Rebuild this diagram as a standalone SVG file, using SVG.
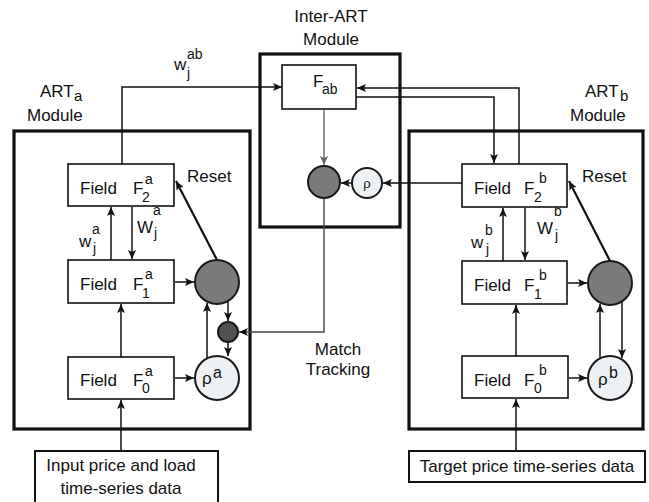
<svg xmlns="http://www.w3.org/2000/svg" width="649" height="502" viewBox="0 0 649 502">
<defs>
<style>
text{font-family:"Liberation Sans",Arial,sans-serif;fill:#111}
.t{font-size:17px}
.s{font-size:14px}
.mod{fill:none;stroke:#111;stroke-width:3.2}
.box{fill:#fff;stroke:#111;stroke-width:1.6}
.io{fill:#fff;stroke:#111;stroke-width:2}
.big{fill:#7a7a7a;stroke:#1a1a1a;stroke-width:2}
.dark{fill:#505050;stroke:#1a1a1a;stroke-width:2}
.rho{fill:#eef1f3;stroke:#1a1a1a;stroke-width:2}
.c{fill:none;stroke:#111;stroke-width:1.5;marker-end:url(#ah)}
.r{fill:none;stroke:#111;stroke-width:2.2;marker-end:url(#ah)}
.g{fill:none;stroke:#777;stroke-width:1.6;marker-end:url(#ahg)}
.m{fill:none;stroke:#444;stroke-width:1.4;marker-end:url(#ah)}
</style>
<marker id="ah" markerUnits="userSpaceOnUse" markerWidth="9" markerHeight="8" refX="9" refY="4" orient="auto"><path d="M0,0 L9,4 L0,8 L2,4 z" fill="#111"/></marker>
<marker id="ahg" markerUnits="userSpaceOnUse" markerWidth="9" markerHeight="8" refX="9" refY="4" orient="auto"><path d="M0,0 L9,4 L0,8 L2,4 z" fill="#666"/></marker>
</defs>
<rect width="649" height="502" fill="#fff"/>

<g id="module-labels">
<text class="t" x="331" y="22" text-anchor="middle">Inter-ART</text>
<text class="t" x="331" y="45" text-anchor="middle">Module</text>
<text class="t" x="40" y="97">ART</text><text x="74" y="101" style="font-size:15px">a</text>
<text class="t" x="27" y="121">Module</text>
<text class="t" x="585" y="97">ART</text><text x="620" y="101" style="font-size:15px">b</text>
<text class="t" x="570" y="121">Module</text>
</g>

<g id="art-a-module"><rect class="mod" x="14" y="131" width="236" height="298"/></g>
<g id="inter-art-module"><rect class="mod" x="260" y="54" width="140" height="173"/></g>
<g id="art-b-module"><rect class="mod" x="409" y="131" width="234" height="298"/></g>

<g id="connectors">
<path class="c" d="M122,164 V87 H282"/>
<path class="c" d="M111,260 V207"/>
<path class="c" d="M132,207 V259"/>
<path class="c" d="M175,282 H194"/>
<path class="r" d="M217,260 L176,181"/>
<path class="c" d="M228,301 V321"/>
<path class="c" d="M228,342 V356"/>
<path class="c" d="M207,358 V303"/>
<path class="c" d="M175,378 H194"/>
<path class="c" d="M121,451 V400"/>
<path class="c" d="M121,357 V304"/>
<path class="g" d="M324,110 V165"/>
<path class="c" d="M352,183 H341"/>
<path class="c" d="M462,183 H383"/>
<path class="m" d="M324,198 V332 H239"/>
<path class="c" d="M519,164 V88 H357"/>
<path class="c" d="M356,97 H494 V163"/>
<path class="c" d="M503,261 V208"/>
<path class="c" d="M525,208 V260"/>
<path class="c" d="M568,283 H587"/>
<path class="r" d="M610,261 L569,181"/>
<path class="c" d="M600,358 V304"/>
<path class="c" d="M622,302 V358"/>
<path class="c" d="M569,378 H587"/>
<path class="c" d="M516,451 V399"/>
<path class="c" d="M516,356 V305"/>
</g>

<g id="connector-labels">
<text class="t" x="174" y="70">w</text><text class="s" x="187" y="59">ab</text><text class="s" x="187" y="78">j</text>
<text class="t" x="79" y="247">w</text><text class="s" x="92" y="234">a</text><text class="s" x="93" y="253">j</text>
<text class="t" x="137" y="233">W</text><text class="s" x="153" y="215">a</text><text class="s" x="154" y="238">j</text>
<text class="t" x="471" y="248">w</text><text class="s" x="485" y="235">b</text><text class="s" x="486" y="254">j</text>
<text class="t" x="537" y="234">W</text><text class="s" x="554" y="216">b</text><text class="s" x="555" y="240">j</text>
<text class="t" x="187" y="182">Reset</text>
<text class="t" x="582" y="182">Reset</text>
<text class="t" x="338" y="355" text-anchor="middle">Match</text>
<text class="t" x="338" y="375" text-anchor="middle">Tracking</text>
</g>

<g id="F2a"><rect class="box" x="68" y="164" width="106" height="42"/>
<text class="t" x="80" y="194">Field</text><text class="t" x="133" y="194">F</text><text class="s" x="145" y="184">a</text><text class="s" x="142" y="202">2</text></g>
<g id="F1a"><rect class="box" x="68" y="260" width="106" height="43"/>
<text class="t" x="80" y="290">Field</text><text class="t" x="133" y="290">F</text><text class="s" x="145" y="279">a</text><text class="s" x="142" y="298">1</text></g>
<g id="F0a"><rect class="box" x="68" y="357" width="106" height="42"/>
<text class="t" x="80" y="386">Field</text><text class="t" x="133" y="386">F</text><text class="s" x="145" y="376">a</text><text class="s" x="142" y="393">0</text></g>
<g id="orient-a"><circle class="big" cx="217" cy="282" r="22"/></g>
<g id="match-a"><circle class="dark" cx="228" cy="332" r="10"/></g>
<g id="rho-a"><circle class="rho" cx="217" cy="378" r="22"/>
<text class="t" x="202" y="384">ρ</text><text x="213" y="378" style="font-size:16px">a</text></g>
<g id="input-a"><rect class="io" x="35" y="451" width="183" height="60"/>
<text class="t" x="121" y="471" text-anchor="middle">Input price and load</text>
<text class="t" x="121" y="494" text-anchor="middle">time-series data</text></g>

<g id="Fab"><rect class="box" x="282" y="65" width="74" height="44"/>
<text class="t" x="313" y="87">F</text><text class="s" x="322" y="94">ab</text></g>
<g id="map-field"><circle class="big" cx="324" cy="182" r="16"/></g>
<g id="rho-ab"><circle class="rho" cx="367" cy="183" r="15"/>
<text x="367" y="188" text-anchor="middle" style="font-size:13px">ρ</text></g>

<g id="F2b"><rect class="box" x="462" y="164" width="105" height="43"/>
<text class="t" x="474" y="194">Field</text><text class="t" x="524" y="194">F</text><text class="s" x="539" y="183">b</text><text class="s" x="534" y="202">2</text></g>
<g id="F1b"><rect class="box" x="462" y="261" width="105" height="43"/>
<text class="t" x="474" y="291">Field</text><text class="t" x="524" y="291">F</text><text class="s" x="539" y="280">b</text><text class="s" x="534" y="299">1</text></g>
<g id="F0b"><rect class="box" x="462" y="356" width="106" height="42"/>
<text class="t" x="474" y="386">Field</text><text class="t" x="524" y="386">F</text><text class="s" x="539" y="375">b</text><text class="s" x="534" y="393">0</text></g>
<g id="orient-b"><circle class="big" cx="610" cy="283" r="22"/></g>
<g id="rho-b"><circle class="rho" cx="610" cy="378" r="22"/>
<text class="t" x="598" y="385">ρ</text><text x="609" y="378" style="font-size:16px">b</text></g>
<g id="input-b"><rect class="io" x="409" y="451" width="236" height="31"/>
<text class="t" x="527" y="472" text-anchor="middle">Target price time-series data</text></g>
</svg>
